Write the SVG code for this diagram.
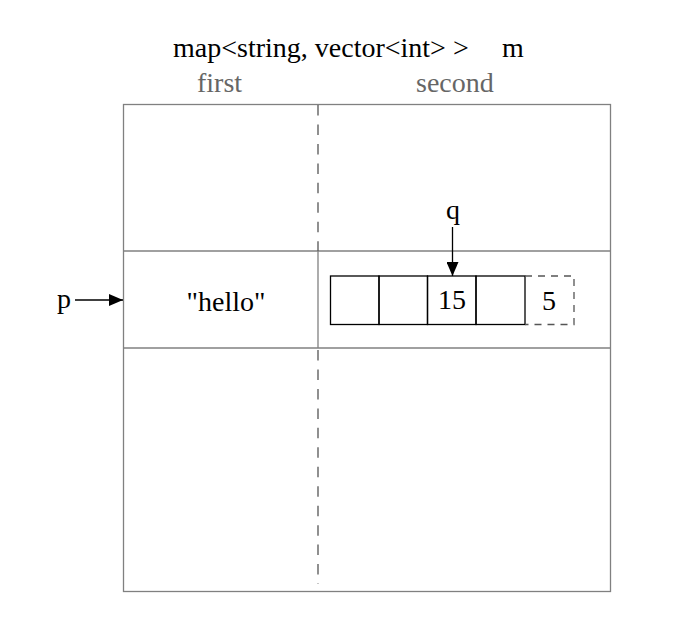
<svg xmlns="http://www.w3.org/2000/svg" width="677" height="627" viewBox="0 0 677 627">
  <style>
    .t { font-family: "Liberation Serif", "Times New Roman", serif; font-size: 28px; fill: #000; }
    .g { fill: #666; }
    .frame { fill: none; stroke: #808080; stroke-width: 1.3; }
    .cell { fill: none; stroke: #000; stroke-width: 1.3; }
    .dash { fill: none; stroke: #555; stroke-width: 1.3; stroke-dasharray: 10.5 8.96; }
    .sdash { fill: none; stroke: #555; stroke-width: 1.3; stroke-dasharray: 7 6; }
    .arrow { stroke: #000; stroke-width: 1.3; fill: none; }
  </style>
  <defs>
    <marker id="ah" viewBox="0 0 14 12" refX="14" refY="6" markerWidth="14" markerHeight="12" markerUnits="userSpaceOnUse" orient="auto">
      <path d="M0,0 L14,6 L0,12 Z" fill="#000"/>
    </marker>
  </defs>
  <rect width="677" height="627" fill="#fff"/>

  <g id="title">
    <text class="t" x="173" y="57">map&lt;string, vector&lt;int&gt; &gt;<tspan x="502">m</tspan></text>
    <text class="t g" x="197" y="92">first</text>
    <text class="t g" x="416" y="92">second</text>
  </g>

  <g id="map">
    <rect class="frame" x="123.5" y="104.5" width="487" height="487"/>
    <line class="frame" x1="123.5" y1="251" x2="610.5" y2="251"/>
    <line class="frame" x1="123.5" y1="348" x2="610.5" y2="348"/>
    <line class="dash" x1="318" y1="105" x2="318" y2="251"/>
    <line class="frame" x1="318" y1="251" x2="318" y2="348"/>
    <line class="dash" x1="318" y1="105" x2="318" y2="584" style="stroke-dasharray:0 245 10.5 8.96 10.5 8.96 10.5 8.96 10.5 8.96 10.5 8.96 10.5 8.96 10.5 8.96 10.5 8.96 10.5 8.96 10.5 8.96 10.5 8.96 10.5 8.96 10.5 8.96 10.5 8.96"/>
  </g>

  <g id="key">
    <text class="t" x="226" y="311" text-anchor="middle">"hello"</text>
  </g>

  <g id="vector">
    <rect class="cell" x="330.5" y="276" width="48.5" height="48.5"/>
    <rect class="cell" x="379" y="276" width="48.5" height="48.5"/>
    <rect class="cell" x="427.5" y="276" width="48.5" height="48.5"/>
    <rect class="cell" x="476" y="276" width="49" height="48.5"/>
    <path class="sdash" d="M525,276 H574 V324.5 H525"/>
    <text class="t" x="452" y="309" text-anchor="middle">15</text>
    <text class="t" x="549" y="310" text-anchor="middle">5</text>
  </g>

  <g id="p">
    <text class="t" x="57" y="308">p</text>
  </g>
  <g id="q">
    <text class="t" x="446" y="219">q</text>
  </g>

  <g id="connectors">
    <line class="arrow" x1="75" y1="300" x2="123" y2="300" marker-end="url(#ah)"/>
    <line class="arrow" x1="452.5" y1="227" x2="452.5" y2="276" marker-end="url(#ah)"/>
  </g>
</svg>
